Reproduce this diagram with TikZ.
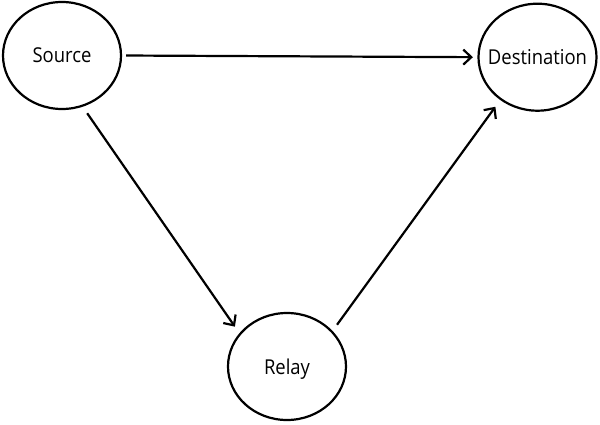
\documentclass[tikz,border=0pt]{standalone}
\usepackage{fontspec}
\setmainfont[FakeStretch=0.9]{Open Sans}
\usetikzlibrary{arrows.meta,shapes.geometric}
\begin{document}
\begin{tikzpicture}[x=1pt,y=1pt,
  party/.style={draw=black,line width=2.2pt,ellipse,inner sep=0pt,
    minimum width=118pt,minimum height=107pt,text depth=0pt,font=\fontsize{20.5}{24}\selectfont},
  link/.style={line width=2.2pt,-{Straight Barb[length=8pt,width=15pt,line width=2.2pt]}}]
\useasboundingbox (0,0) rectangle (600,424);
\node[party] (src) at (62,368.5) {\makebox[0pt]{Source}};
\node[party] (dst) at (537.5,366.8) {\makebox[0pt]{Destination}};
\node[party] (rel) at (287,57.5) {\makebox[0pt]{Relay}};
\draw[link,shorten <=4pt,shorten >=4.5pt] (src.east) -- (dst.west);
\draw[link,shorten <=7.9pt,shorten >=7.9pt] (src.-68) -- (rel.145);
\draw[link,shorten <=7.6pt,shorten >=8.3pt] (rel.38) -- (dst.-131.5);
\end{tikzpicture}
\end{document}
